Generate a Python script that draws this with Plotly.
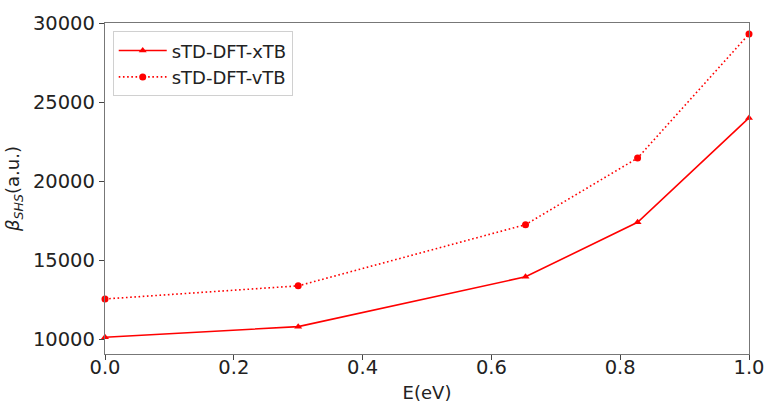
import plotly.graph_objects as go

# Hyperpolarizability vs photon energy
energy = [0.0, 0.3, 0.653, 0.827, 1.0]
beta_xtb = [10130, 10800, 13950, 17400, 24000]
beta_vtb = [12550, 13380, 17250, 21460, 29300]
x_ticks = [0.0, 0.2, 0.4, 0.6, 0.8, 1.0]
y_ticks = [10000, 15000, 20000, 25000, 30000]

fig = go.Figure()
fig.add_trace(go.Scatter(
    x=energy, y=beta_xtb, name="sTD-DFT-xTB", mode="lines+markers",
    line=dict(color="red", width=1.6),
    marker=dict(symbol="triangle-up", size=7, color="red"),
    cliponaxis=False,
))
fig.add_trace(go.Scatter(
    x=energy, y=beta_vtb, name="sTD-DFT-vTB", mode="lines+markers",
    line=dict(color="red", width=1.6, dash="1.6px,2.6px"),
    marker=dict(symbol="circle", size=7, color="red"),
    cliponaxis=False,
))

axis_common = dict(
    showgrid=False, zeroline=False, showline=True, mirror=True,
    linecolor="#777", linewidth=1.3, ticks="outside", ticklen=5,
    tickcolor="#444", tickwidth=1.2, automargin=False,
    tickfont=dict(family="DejaVu Sans", size=19.5, color="#222"),
)

fig.update_layout(
    width=766, height=403,
    margin=dict(l=105, r=17, t=23, b=49),
    paper_bgcolor="white", plot_bgcolor="white",
    showlegend=True,
    legend=dict(
        x=0.012, y=0.975, xanchor="left", yanchor="top",
        bordercolor="#d0d0d0", borderwidth=1, bgcolor="white",
        font=dict(family="DejaVu Sans", size=18, color="#222"),
        tracegroupgap=0, itemwidth=48,
    ),
    xaxis=dict(
        range=[0, 1], tickvals=x_ticks,
        ticktext=[f"{v:.1f}" for v in x_ticks],
        ticklabelstandoff=-10,
        title=dict(text="E(eV)", font=dict(family="DejaVu Sans", size=18, color="#222"), standoff=10),
        **axis_common,
    ),
    yaxis=dict(
        range=[9070, 30000], tickvals=y_ticks,
        ticktext=[str(v) for v in y_ticks],
        title=dict(text="<i>β</i><sub><i>SHS</i></sub>(a.u.)",
                   font=dict(family="DejaVu Sans", size=18, color="#222"), standoff=8),
        **axis_common,
    ),
)

fig.write_html("out.html")
